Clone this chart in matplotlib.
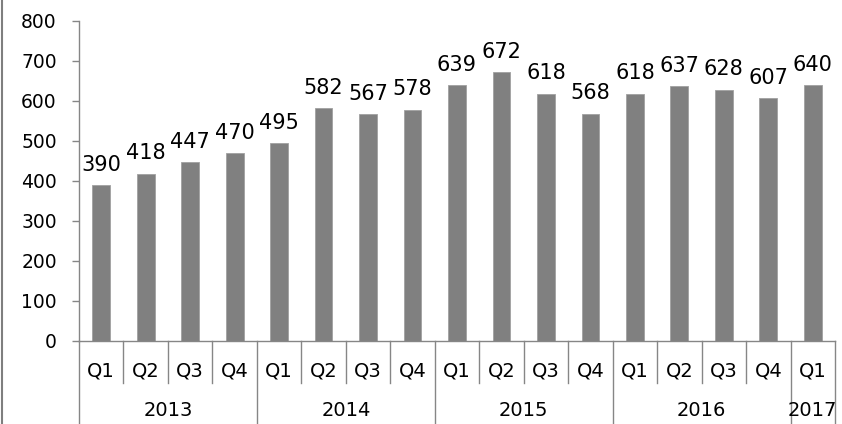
import matplotlib
matplotlib.use("Agg")
import matplotlib.pyplot as plt
from matplotlib.lines import Line2D
from matplotlib.transforms import blended_transform_factory

# Quarterly values
quarters = ["Q1", "Q2", "Q3", "Q4",
            "Q1", "Q2", "Q3", "Q4",
            "Q1", "Q2", "Q3", "Q4",
            "Q1", "Q2", "Q3", "Q4",
            "Q1"]
years = ["2013", "2014", "2015", "2016", "2017"]
quarters_per_year = [4, 4, 4, 4, 1]
values = [390, 418, 447, 470,
          495, 582, 567, 578,
          639, 672, 618, 568,
          618, 637, 628, 607,
          640]

plt.rcParams["font.family"] = ["DejaVu Sans"]
FS_TICK = 13.5
FS_CAT = 14
FS_LABEL = 15
AX_COLOR = "#868686"

W, H = 842, 424
fig = plt.figure(figsize=(W / 100, H / 100), dpi=100)
left, right, top, bottom = 79, 835, 21, 341
ax = fig.add_axes([left / W, (H - bottom) / H, (right - left) / W, (bottom - top) / H])

x = list(range(len(values)))
ax.bar(x, values, width=0.4, color="#808080", edgecolor="#a0a0a0", linewidth=0.6, zorder=2)

for xi, v in zip(x, values):
    ax.annotate(str(v), (xi, v), xytext=(0, 7.5), textcoords="offset points",
                ha="center", va="bottom", fontsize=FS_LABEL, color="black")

ax.set_xlim(-0.5, len(values) - 0.5)
ax.set_ylim(0, 800)
ax.set_yticks(range(0, 801, 100))
ax.tick_params(axis="y", labelsize=FS_TICK, length=5, width=1, color=AX_COLOR, pad=11)
ax.set_xticks([])
for s in ["top", "right"]:
    ax.spines[s].set_visible(False)
for s in ["left", "bottom"]:
    ax.spines[s].set_color(AX_COLOR)
    ax.spines[s].set_linewidth(1)

# Multi-level category axis
tr = blended_transform_factory(ax.transData, ax.transAxes)
plot_h = bottom - top
q_row = (383 - bottom) / plot_h
y_row = (H - bottom) / plot_h

for i, q in enumerate(quarters):
    ax.text(i, -(30 / plot_h), q, transform=tr, ha="center", va="center", fontsize=FS_CAT)

boundaries = []
pos = 0
for yr, n in zip(years, quarters_per_year):
    center = pos + (n - 1) / 2
    ax.text(center, -(69 / plot_h), yr, transform=tr, ha="center", va="center", fontsize=FS_CAT)
    boundaries.append(pos - 0.5)
    pos += n
boundaries.append(pos - 0.5)

for b in range(len(values) + 1):
    bx = b - 0.5
    depth = y_row if bx in boundaries else q_row
    ax.add_line(Line2D([bx, bx], [0, -depth], transform=tr, color=AX_COLOR,
                       linewidth=1, clip_on=False))

# Chart frame edge at the left
fig.add_artist(Line2D([2 / W, 2 / W], [0, 1], transform=fig.transFigure,
                      color="#7f7f7f", linewidth=1.5))

fig.savefig("out.png", dpi=100, facecolor="white")
